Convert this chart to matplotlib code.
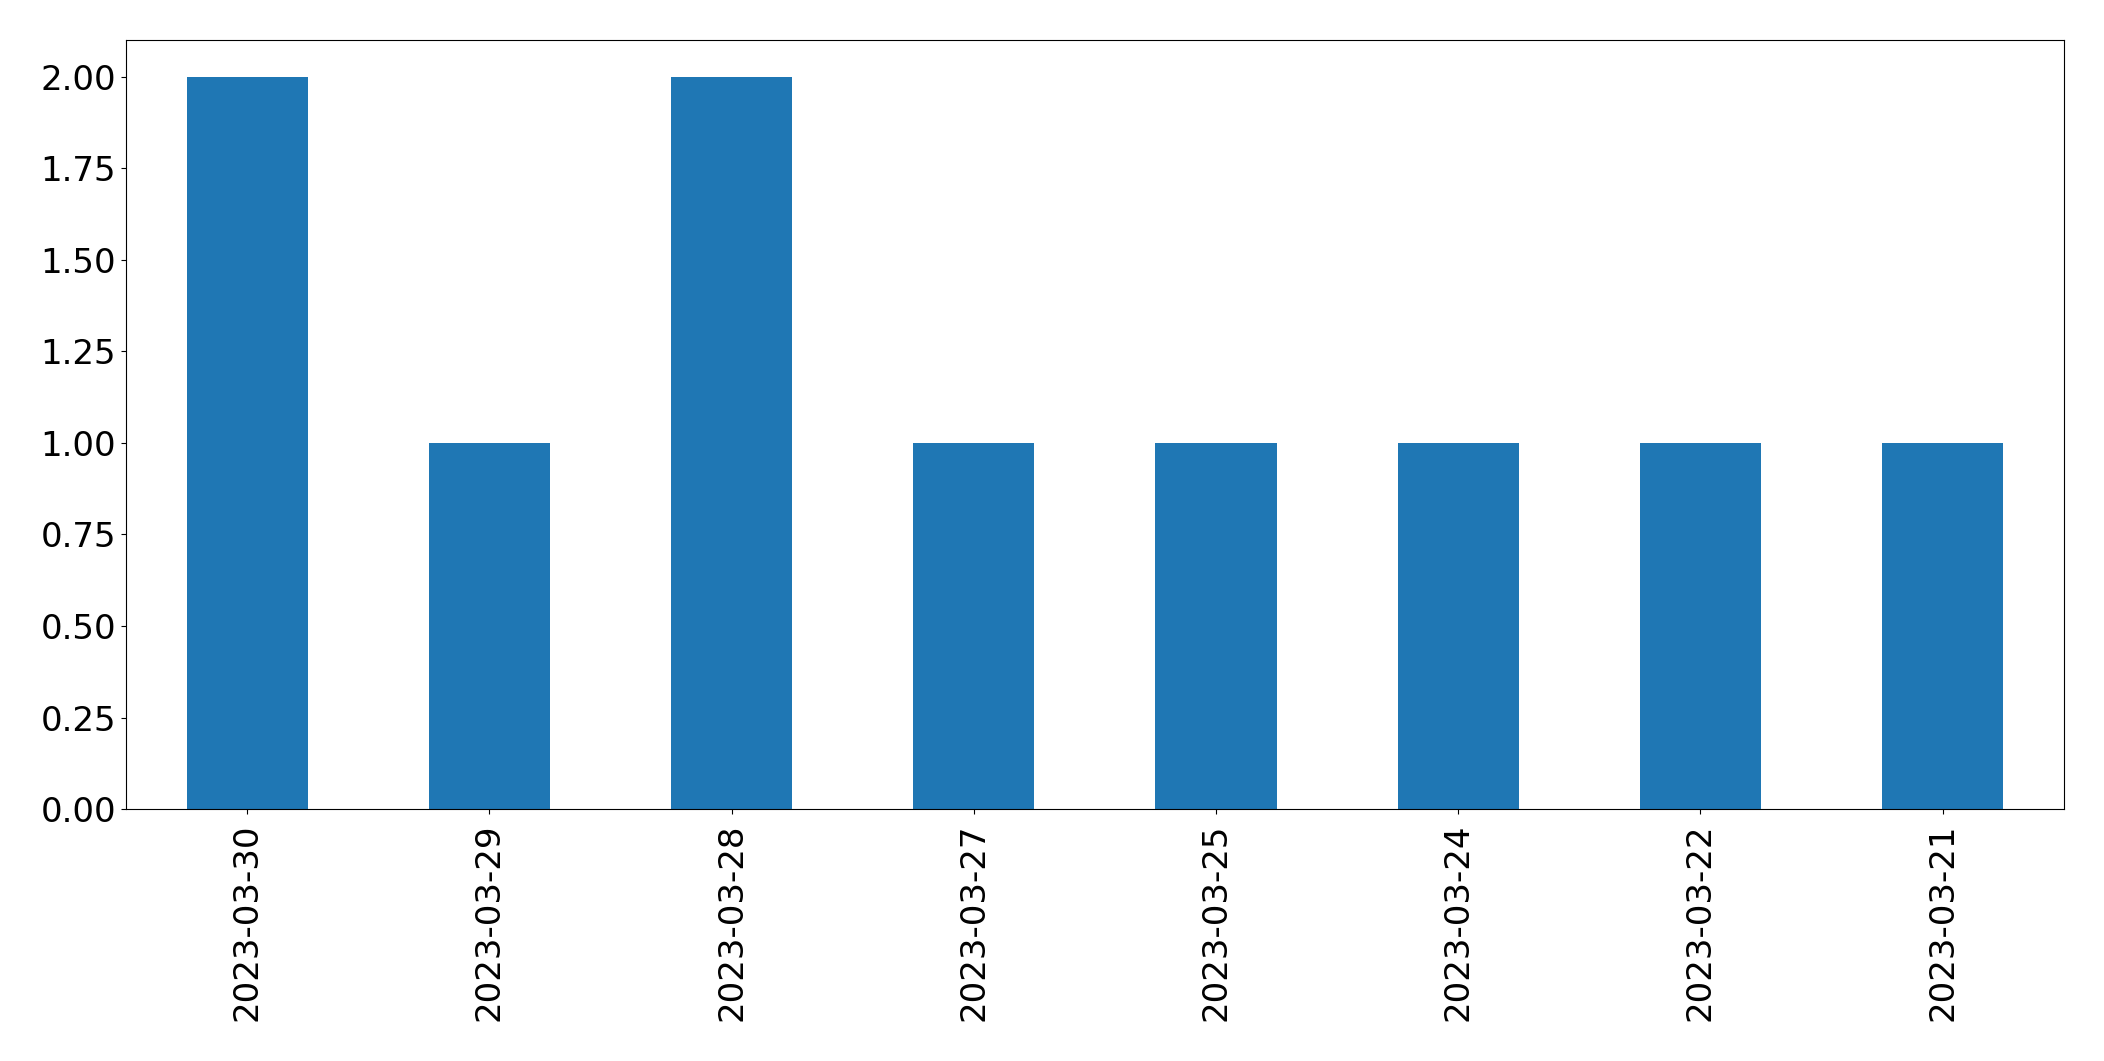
import matplotlib
matplotlib.use("Agg")
import matplotlib.pyplot as plt

dates = ["2023-03-30", "2023-03-29", "2023-03-28", "2023-03-27",
         "2023-03-25", "2023-03-24", "2023-03-22", "2023-03-21"]
counts = [2, 1, 2, 1, 1, 1, 1, 1]
yticks = [0, 0.25, 0.5, 0.75, 1.0, 1.25, 1.5, 1.75, 2.0]

fig = plt.figure(figsize=(21.04, 10.61), dpi=100)
ax = fig.add_axes([0.0599, 0.2375, 0.921, 0.7245])
x = range(len(dates))
ax.bar(x, counts, width=0.5, color="#1f77b4")
ax.set_xticks(list(x))
ax.set_xticklabels(dates, rotation=90)
ax.set_xlim(-0.5, len(dates) - 0.5)
ax.set_ylim(0, 2.1)
ax.set_yticks(yticks)
ax.set_yticklabels([f"{v:.2f}" for v in yticks])
ax.tick_params(labelsize=24.5)
ax.tick_params(axis="x", pad=7)
fig.savefig("out.png", dpi=100)
